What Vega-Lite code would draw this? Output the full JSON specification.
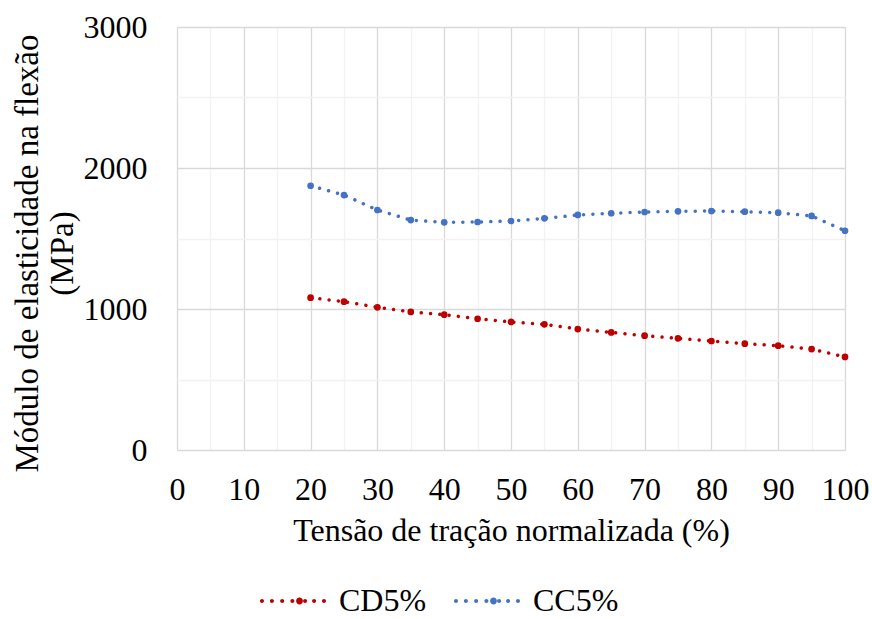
{
  "$schema": "https://vega.github.io/schema/vega-lite/v6.json",
  "width": 668,
  "height": 423,
  "autosize": {"type": "none"},
  "padding": {"left": 177, "top": 27, "right": 27, "bottom": 169},
  "background": "white",
  "config": {
    "view": {"stroke": null},
    "font": "'Liberation Serif', 'Times New Roman', 'DejaVu Serif', serif"
  },
  "data": {
    "values": [
      {"x": 20, "y": 1080, "s": "CD5%"}, {"x": 25, "y": 1052, "s": "CD5%"}, {"x": 30, "y": 1012, "s": "CD5%"},
      {"x": 35, "y": 979, "s": "CD5%"}, {"x": 40, "y": 960, "s": "CD5%"}, {"x": 45, "y": 931, "s": "CD5%"},
      {"x": 50, "y": 908, "s": "CD5%"}, {"x": 55, "y": 891, "s": "CD5%"}, {"x": 60, "y": 858, "s": "CD5%"},
      {"x": 65, "y": 834, "s": "CD5%"}, {"x": 70, "y": 811, "s": "CD5%"}, {"x": 75, "y": 792, "s": "CD5%"},
      {"x": 80, "y": 773, "s": "CD5%"}, {"x": 85, "y": 754, "s": "CD5%"}, {"x": 90, "y": 740, "s": "CD5%"},
      {"x": 95, "y": 716, "s": "CD5%"}, {"x": 100, "y": 660, "s": "CD5%"},
      {"x": 20, "y": 1874, "s": "CC5%"}, {"x": 25, "y": 1808, "s": "CC5%"}, {"x": 30, "y": 1702, "s": "CC5%"},
      {"x": 35, "y": 1631, "s": "CC5%"}, {"x": 40, "y": 1615, "s": "CC5%"}, {"x": 45, "y": 1617, "s": "CC5%"},
      {"x": 50, "y": 1624, "s": "CC5%"}, {"x": 55, "y": 1643, "s": "CC5%"}, {"x": 60, "y": 1667, "s": "CC5%"},
      {"x": 65, "y": 1679, "s": "CC5%"}, {"x": 70, "y": 1688, "s": "CC5%"}, {"x": 75, "y": 1693, "s": "CC5%"},
      {"x": 80, "y": 1695, "s": "CC5%"}, {"x": 85, "y": 1690, "s": "CC5%"}, {"x": 90, "y": 1683, "s": "CC5%"},
      {"x": 95, "y": 1660, "s": "CC5%"}, {"x": 100, "y": 1555, "s": "CC5%"}
    ]
  },
  "encoding": {
    "x": {
      "field": "x", "type": "quantitative",
      "scale": {"domain": [0, 100], "nice": false},
      "axis": {
        "title": "Tensão de tração normalizada (%)",
        "values": [0,5,10,15,20,25,30,35,40,45,50,55,60,65,70,75,80,85,90,95,100],
        "labelExpr": "datum.value % 10 === 0 ? datum.label : ''",
        "gridColor": {"condition": {"test": "datum.value % 10 === 0", "value": "#d9d9d9"}, "value": "#f2f2f2"},
        "gridWidth": 1.3,
        "domain": false, "ticks": false,
        "labelFont": "'Liberation Serif', 'Times New Roman', 'DejaVu Serif', serif", "labelFontSize": 32, "labelColor": "#000000",
        "labelPadding": 24, "labelFlush": false, "labelOverlap": false,
        "titleFont": "'Liberation Serif', 'Times New Roman', 'DejaVu Serif', serif", "titleFontSize": 32, "titleFontWeight": "normal", "titleColor": "#000000",
        "titleY": 65
      }
    },
    "y": {
      "field": "y", "type": "quantitative",
      "scale": {"domain": [0, 3000], "nice": false},
      "axis": {
        "title": ["Módulo de elasticidade na flexão", "(MPa)"],
        "values": [0,500,1000,1500,2000,2500,3000],
        "labelExpr": "datum.value % 1000 === 0 ? datum.label : ''",
        "format": "d",
        "gridColor": {"condition": {"test": "datum.value % 1000 === 0", "value": "#d9d9d9"}, "value": "#f2f2f2"},
        "gridWidth": 1.3,
        "domain": false, "ticks": false,
        "labelFont": "'Liberation Serif', 'Times New Roman', 'DejaVu Serif', serif", "labelFontSize": 32, "labelColor": "#000000",
        "labelPadding": 30, "labelFlush": false, "labelOverlap": false,
        "titleFont": "'Liberation Serif', 'Times New Roman', 'DejaVu Serif', serif", "titleFontSize": 33, "titleFontWeight": "normal", "titleColor": "#000000",
        "titleLineHeight": 35, "titleBaseline": "middle", "titleAngle": -90,
        "titleX": -150, "titleY": 226
      }
    },
    "color": {
      "field": "s", "type": "nominal",
      "scale": {"domain": ["CD5%", "CC5%"], "range": ["#C00000", "#4472C4"]},
      "legend": {
        "title": null, "orient": "none", "direction": "horizontal",
        "legendX": 85, "legendY": 543,
        "labelFont": "'Liberation Serif', 'Times New Roman', 'DejaVu Serif', serif", "labelFontSize": 32, "labelColor": "#000000",
        "labelOffset": 15, "columnPadding": 26,
        "symbolType": "M -1.065,0 A 0.065,0.065 0 1,0 -0.935,0 A 0.065,0.065 0 1,0 -1.065,0 Z M -0.745,0 A 0.065,0.065 0 1,0 -0.615,0 A 0.065,0.065 0 1,0 -0.745,0 Z M -0.415,0 A 0.065,0.065 0 1,0 -0.285,0 A 0.065,0.065 0 1,0 -0.415,0 Z M -0.085,0 A 0.065,0.065 0 1,0 0.045,0 A 0.065,0.065 0 1,0 -0.085,0 Z M 0.1,0 A 0.11,0.11 0 1,0 0.32,0 A 0.11,0.11 0 1,0 0.1,0 Z M 0.325,0 A 0.065,0.065 0 1,0 0.455,0 A 0.065,0.065 0 1,0 0.325,0 Z M 0.615,0 A 0.065,0.065 0 1,0 0.745,0 A 0.065,0.065 0 1,0 0.615,0 Z M 0.935,0 A 0.065,0.065 0 1,0 1.065,0 A 0.065,0.065 0 1,0 0.935,0 Z",
        "symbolSize": 3844,
        "symbolStrokeWidth": 0,
        "encode": {"symbols": {"update": {"fill": {"scale": "color", "field": "value"}, "stroke": {"value": "transparent"}, "opacity": {"value": 1}}}}
      }
    }
  },
  "layer": [
    {
      "mark": {"type": "line", "strokeWidth": 3.5, "strokeCap": "round", "strokeDash": [0.01, 9.3]}
    },
    {
      "mark": {"type": "point", "filled": true, "size": 45, "opacity": 1, "shape": "circle"}
    }
  ]
}
